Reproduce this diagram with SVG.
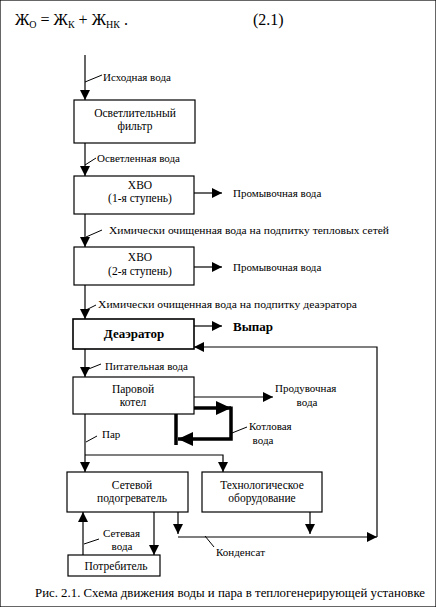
<svg xmlns="http://www.w3.org/2000/svg" width="436" height="607" viewBox="0 0 436 607" font-family="'Liberation Serif', 'DejaVu Serif', serif">
<defs>
<style>
text{font-family:'Liberation Serif','DejaVu Serif',serif;fill:#000}
.t{font-size:11px}
.b{font-size:11.5px;text-anchor:middle}
.f{font-size:16px}
.s{font-size:10px}
rect{fill:#fff;stroke:#000;stroke-width:1.2}
.c line,.c polyline{stroke:#000;stroke-width:1.2;fill:none}
.c .k{stroke-width:3.5}
.c .l{stroke-width:1}
</style>
<marker id="a" markerUnits="userSpaceOnUse" markerWidth="10" markerHeight="10" refX="10" refY="5" orient="auto" viewBox="0 0 10 10">
<path d="M0,0 L10,5 L0,10 Z" fill="#000"/>
</marker>
<marker id="A" markerUnits="userSpaceOnUse" markerWidth="15" markerHeight="14" refX="15" refY="7" orient="auto" viewBox="0 0 15 14">
<path d="M0,0 L15,7 L0,14 Z" fill="#000"/>
</marker>
</defs>
<rect width="436" height="607" fill="#fff" stroke="none"/>

<g id="formula">
<text class="f" x="15" y="25">Ж<tspan class="s" dy="3">О</tspan><tspan dy="-3"> = Ж</tspan><tspan class="s" dy="3">К</tspan><tspan dy="-3"> + Ж</tspan><tspan class="s" dy="3">НК</tspan><tspan dy="-3"> .</tspan></text>
<text class="f" x="253" y="25">(2.1)</text>
</g>

<g class="c" id="connectors">
<line x1="85" y1="55" x2="85" y2="100" marker-end="url(#a)"/>
<line x1="85" y1="143" x2="85" y2="176" marker-end="url(#a)"/>
<line x1="85" y1="214" x2="85" y2="247" marker-end="url(#a)"/>
<line x1="85" y1="285" x2="85" y2="319" marker-end="url(#a)"/>
<line x1="85" y1="349" x2="85" y2="377" marker-end="url(#a)"/>
<line x1="85" y1="414" x2="85" y2="472" marker-end="url(#a)"/>
<polyline points="85,455 223,455 223,472" marker-end="url(#a)"/>
<line x1="194" y1="193" x2="222" y2="193" marker-end="url(#a)"/>
<line x1="194" y1="267" x2="222" y2="267" marker-end="url(#a)"/>
<line x1="194" y1="326" x2="222" y2="326" marker-end="url(#a)"/>
<polyline points="377,537 377,347 194,347" marker-end="url(#a)"/>
<line x1="194" y1="397" x2="273" y2="397" marker-end="url(#a)"/>
<line class="k" x1="194" y1="408" x2="231" y2="408" marker-end="url(#A)"/>
<polyline class="k" points="231,406.5 231,439 178,439" marker-end="url(#A)"/>
<line class="k" x1="176" y1="414" x2="176" y2="445"/>
<line x1="154" y1="512" x2="154" y2="555" marker-end="url(#a)"/>
<line x1="83" y1="555" x2="83" y2="512" marker-end="url(#a)"/>
<line x1="178" y1="512" x2="178" y2="534" marker-end="url(#a)"/>
<line x1="310" y1="512" x2="310" y2="534" marker-end="url(#a)"/>
<line x1="178" y1="537" x2="377" y2="537" marker-end="url(#a)"/>
<line class="l" x1="85" y1="82" x2="102" y2="75"/>
<line class="l" x1="85" y1="165" x2="96" y2="158"/>
<line class="l" x1="86" y1="237" x2="102" y2="230"/>
<line class="l" x1="86" y1="310" x2="96" y2="305"/>
<line class="l" x1="86" y1="370" x2="101" y2="364"/>
<line class="l" x1="86" y1="442" x2="97" y2="436"/>
<line class="l" x1="232" y1="433" x2="247" y2="427"/>
<line class="l" x1="84" y1="544" x2="99" y2="539"/>
<line class="l" x1="205" y1="536" x2="214" y2="547"/>
</g>

<g id="labels">
<text class="t" x="103" y="81">Исходная вода</text>
<text class="t" x="97" y="162">Осветленная вода</text>
<text class="t" x="109" y="234" textLength="280" lengthAdjust="spacingAndGlyphs">Химически очищенная вода на подпитку тепловых сетей</text>
<text class="t" x="98" y="308" textLength="259" lengthAdjust="spacingAndGlyphs">Химически очищенная вода на подпитку деаэратора</text>
<text class="t" x="105" y="370">Питательная вода</text>
<text class="t" x="233" y="197">Промывочная вода</text>
<text class="t" x="233" y="271">Промывочная вода</text>
<text x="233" y="331" style="font-size:13px;font-weight:bold">Выпар</text>
<text class="t" x="275" y="392">Продувочная</text>
<text class="t" x="307" y="406" text-anchor="middle">вода</text>
<text class="t" x="249" y="430">Котловая</text>
<text class="t" x="263" y="444" text-anchor="middle">вода</text>
<text class="t" x="102" y="438">Пар</text>
<text class="t" x="103" y="537">Сетевая</text>
<text class="t" x="122" y="550" text-anchor="middle">вода</text>
<text class="t" x="216" y="556">Конденсат</text>
</g>

<g id="n1"><rect x="74" y="100" width="121" height="43"/>
<text class="b" x="135" y="117">Осветлительный</text><text class="b" x="135" y="130">фильтр</text></g>
<g id="n2"><rect x="74" y="176" width="120" height="38"/>
<text class="b" x="140" y="189">ХВО</text><text class="b" x="140" y="202">(1-я ступень)</text></g>
<g id="n3"><rect x="74" y="247" width="120" height="38"/>
<text class="b" x="140" y="261">ХВО</text><text class="b" x="140" y="275">(2-я ступень)</text></g>
<g id="n4"><rect x="73" y="319" width="121" height="30" style="stroke-width:1.6"/>
<text x="134" y="338" style="font-size:13px;font-weight:bold;text-anchor:middle">Деаэратор</text></g>
<g id="n5"><rect x="73" y="377" width="121" height="37"/>
<text class="b" x="133" y="393">Паровой</text><text class="b" x="133" y="406">котел</text></g>
<g id="n6"><rect x="67" y="472" width="121" height="40"/>
<text class="b" x="132" y="489">Сетевой</text><text class="b" x="132" y="502">подогреватель</text></g>
<g id="n7"><rect x="202" y="472" width="120" height="40"/>
<text class="b" x="262" y="489">Технологическое</text><text class="b" x="262" y="502">оборудование</text></g>
<g id="n8"><rect x="68" y="555" width="92" height="21"/>
<text class="b" x="116" y="570">Потребитель</text></g>

<text x="35" y="597" style="font-size:12.5px" textLength="390" lengthAdjust="spacingAndGlyphs">Рис. 2.1. Схема движения воды и пара в теплогенерирующей установке</text>
</svg>
